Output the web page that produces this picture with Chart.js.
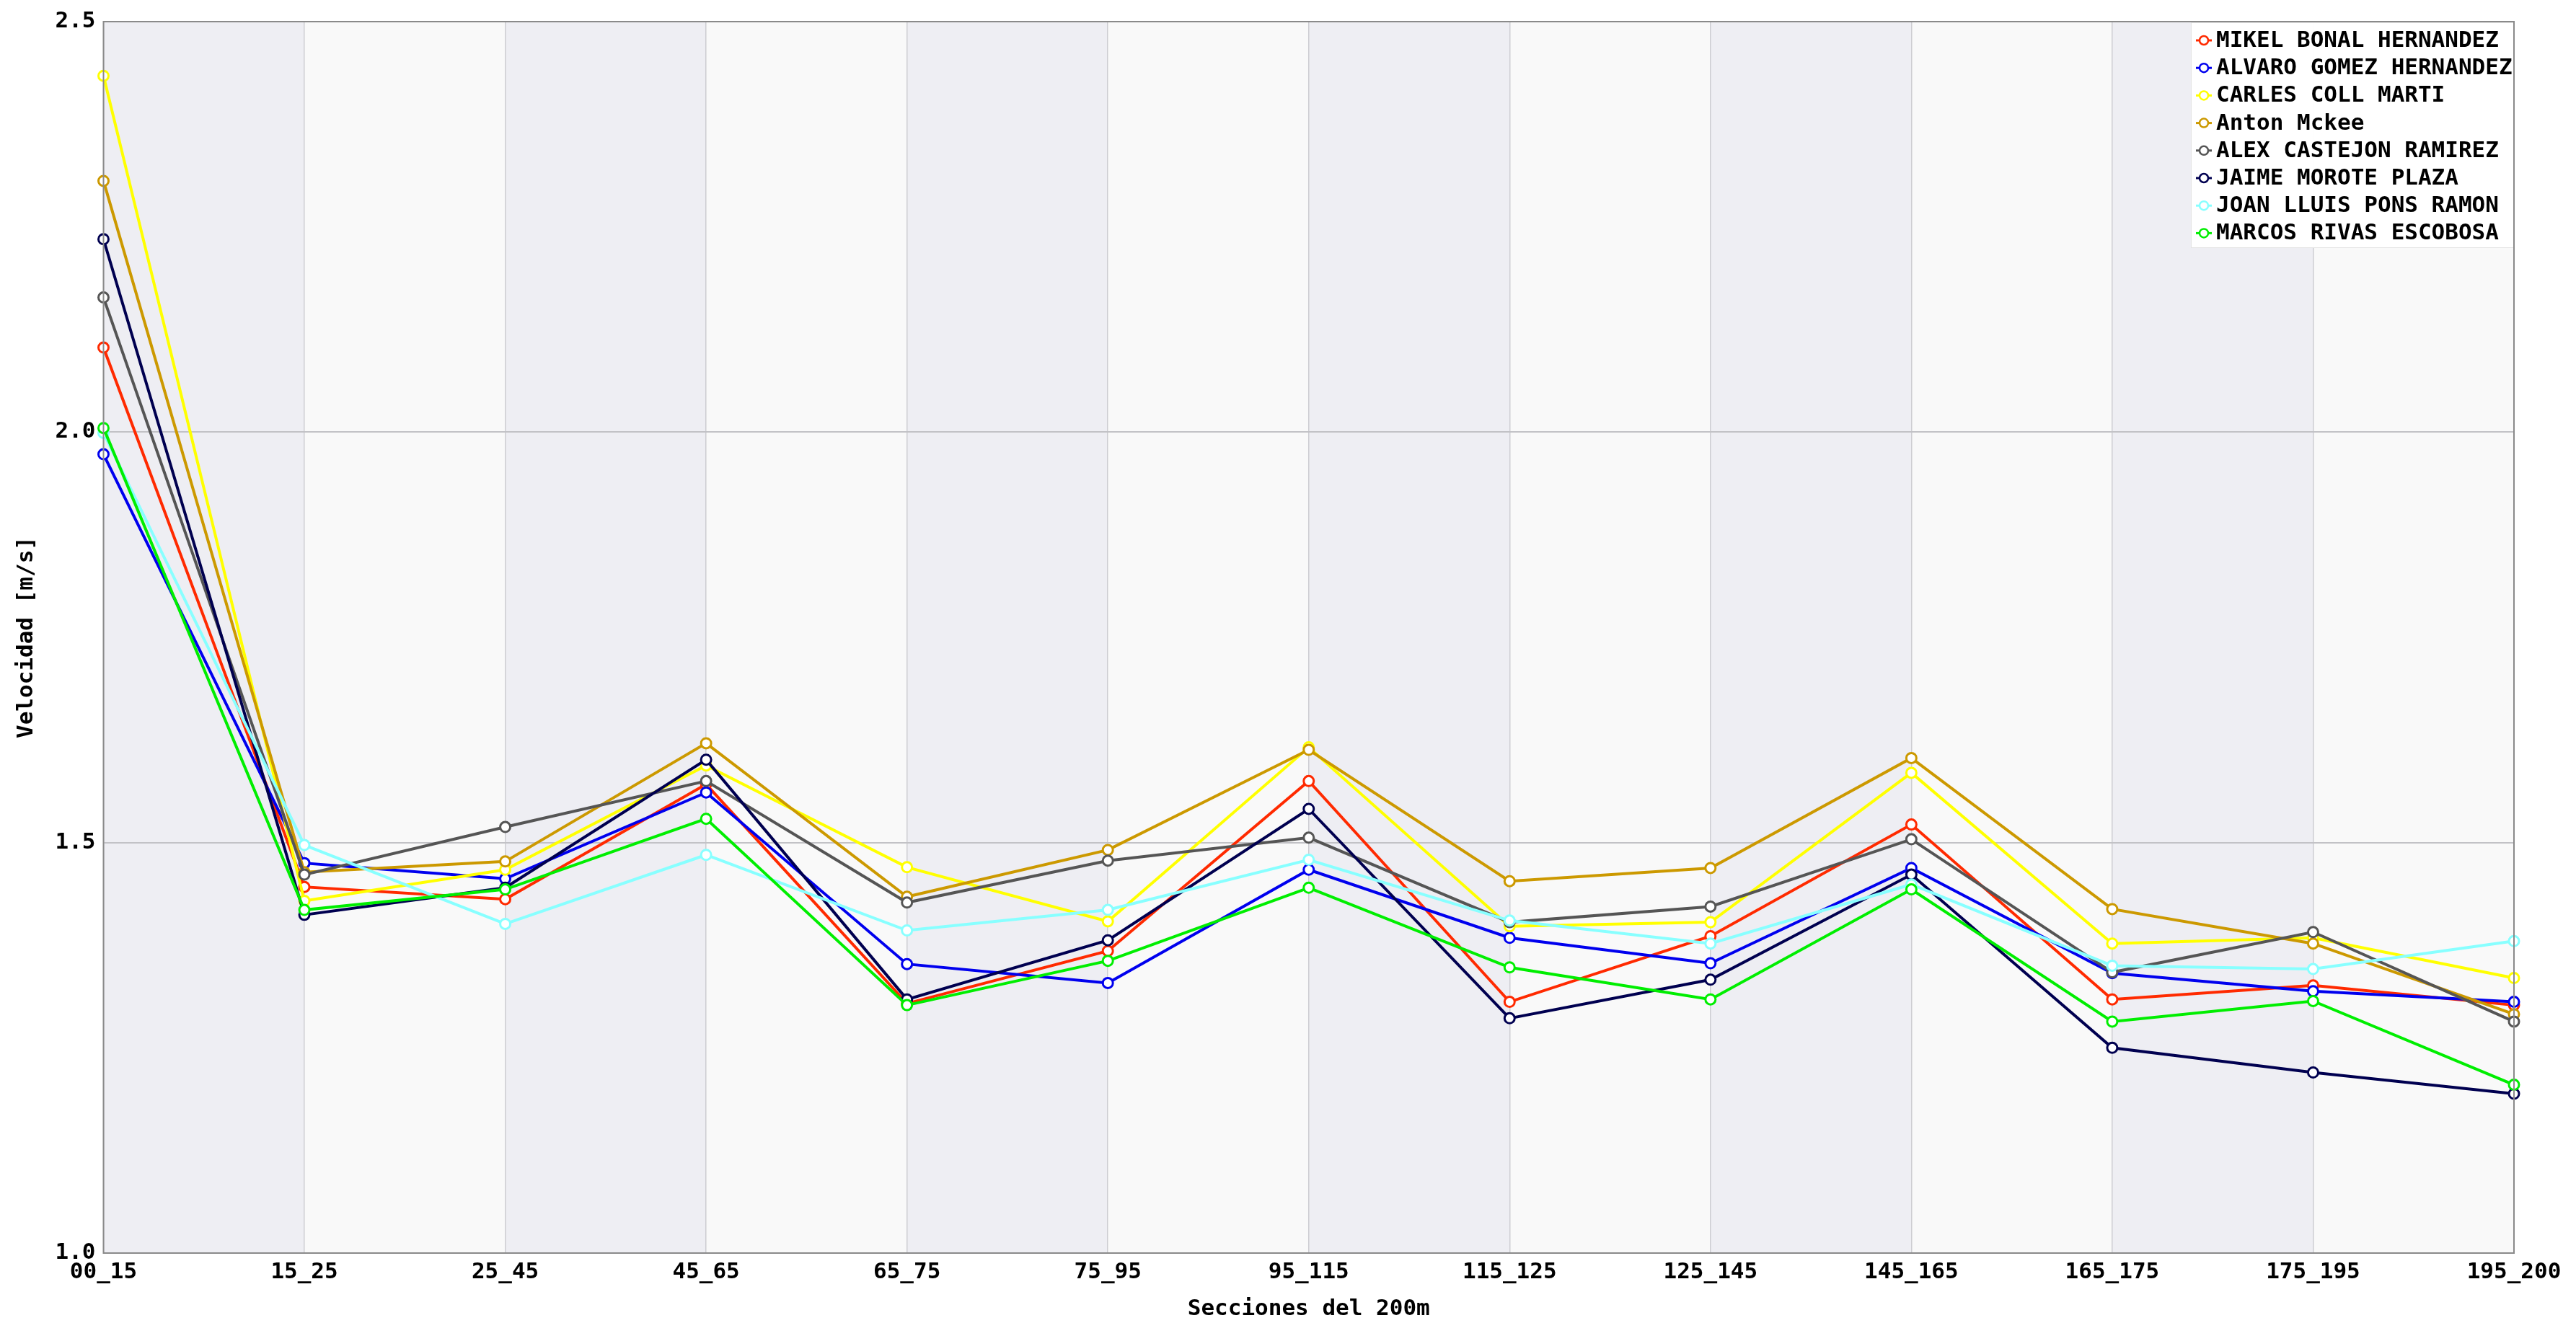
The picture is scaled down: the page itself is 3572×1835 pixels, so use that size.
<!DOCTYPE html>
<html>
<head>
<meta charset="utf-8">
<script src="https://cdn.jsdelivr.net/npm/chart.js@4/dist/chart.umd.min.js"></script>
<style>
html,body{margin:0;padding:0;background:#fff;}
#wrap{width:3572px;height:1835px;}
</style>
</head>
<body>
<div id="wrap"><canvas id="c" width="3572" height="1835"></canvas></div>
<script>
const categories = ['00_15','15_25','25_45','45_65','65_75','75_95','95_115','115_125','125_145','145_165','165_175','175_195','195_200'];
const yTicks = [1.0, 1.5, 2.0, 2.5];

const names = ['MIKEL BONAL HERNANDEZ','ALVARO GOMEZ HERNANDEZ','CARLES COLL MARTI','Anton Mckee','ALEX CASTEJON RAMIREZ','JAIME MOROTE PLAZA','JOAN LLUIS PONS RAMON','MARCOS RIVAS ESCOBOSA'];

const mikel  = [2.103, 1.446, 1.431, 1.571, 1.304, 1.368, 1.575, 1.306, 1.386, 1.522, 1.309, 1.326, 1.302];
const alvaro = [1.973, 1.475, 1.456, 1.561, 1.352, 1.329, 1.467, 1.384, 1.353, 1.469, 1.341, 1.319, 1.306];
const carles = [2.434, 1.429, 1.467, 1.594, 1.470, 1.404, 1.616, 1.398, 1.403, 1.585, 1.377, 1.384, 1.335];
const anton  = [2.306, 1.464, 1.477, 1.621, 1.434, 1.491, 1.613, 1.453, 1.469, 1.603, 1.419, 1.377, 1.291];
const alex   = [2.164, 1.461, 1.519, 1.575, 1.427, 1.478, 1.506, 1.403, 1.422, 1.504, 1.342, 1.391, 1.282];
const jaime  = [2.235, 1.412, 1.445, 1.601, 1.309, 1.381, 1.541, 1.286, 1.333, 1.461, 1.250, 1.220, 1.194];
const joan   = [1.999, 1.497, 1.401, 1.485, 1.393, 1.418, 1.479, 1.405, 1.377, 1.449, 1.350, 1.346, 1.380];
const marcos = [2.005, 1.418, 1.443, 1.529, 1.302, 1.356, 1.445, 1.348, 1.309, 1.443, 1.282, 1.307, 1.205];

const seriesValues = [mikel, alvaro, carles, anton, alex, jaime, joan, marcos];
const colors = ['#ff2a00','#0000ee','#ffff00','#cc9900','#555555','#000050','#88ffff','#00ee00'];

const FONT = '"DejaVu Sans Mono", monospace';

const datasets = names.map((n, i) => ({
  label: n,
  data: seriesValues[i],
  borderColor: colors[i],
  backgroundColor: '#ffffff',
  borderWidth: 4,
  pointRadius: 7,
  pointBorderWidth: 3,
  pointBackgroundColor: '#ffffff',
  pointBorderColor: colors[i],
  tension: 0,
  fill: false,
  order: names.length - i
}));

const bandsPlugin = {
  id: 'bands',
  beforeDraw(chart) {
    const {ctx, chartArea: a, scales: {x}} = chart;
    ctx.save();
    for (let i = 0; i < categories.length - 1; i++) {
      const x0 = x.getPixelForValue(i), x1 = x.getPixelForValue(i + 1);
      ctx.fillStyle = (i % 2 === 0) ? '#eeeef3' : '#f9f9f9';
      ctx.fillRect(x0, a.top, x1 - x0, a.bottom - a.top);
    }
    ctx.restore();
  }
};

const frameLegendPlugin = {
  id: 'frameLegend',
  afterDraw(chart) {
    const {ctx, chartArea: a} = chart;
    ctx.save();
    const boxLeft = a.right - 448;
    const boxTop = a.top + 1;
    const boxBottom = a.top + 314;
    ctx.fillStyle = 'rgba(255,255,255,0.95)';
    ctx.fillRect(boxLeft, boxTop, a.right - boxLeft, boxBottom - boxTop);
    ctx.strokeStyle = '#e4e4e4';
    ctx.lineWidth = 1;
    ctx.strokeRect(boxLeft + 0.5, boxTop + 0.5, a.right - boxLeft - 1, boxBottom - boxTop - 1);
    ctx.font = 'bold 31px ' + FONT;
    ctx.textBaseline = 'middle';
    ctx.textAlign = 'left';
    chart.data.datasets.forEach((ds, i) => {
      const cy = a.top + 26 + i * 38.2;
      const mx = boxLeft + 18;
      ctx.strokeStyle = ds.borderColor;
      ctx.lineWidth = 3;
      ctx.beginPath();
      ctx.moveTo(mx - 11, cy);
      ctx.lineTo(mx + 11, cy);
      ctx.stroke();
      ctx.beginPath();
      ctx.arc(mx, cy, 6, 0, Math.PI * 2);
      ctx.fillStyle = '#ffffff';
      ctx.fill();
      ctx.lineWidth = 2.5;
      ctx.stroke();
      ctx.fillStyle = '#000000';
      ctx.fillText(ds.label, boxLeft + 35, cy + 1);
    });
    ctx.strokeStyle = '#8a8a8a';
    ctx.lineWidth = 2;
    ctx.strokeRect(a.left, a.top, a.right - a.left, a.bottom - a.top);
    ctx.restore();
  }
};

new Chart(document.getElementById('c'), {
  type: 'line',
  data: { labels: categories, datasets },
  options: {
    responsive: false,
    animation: false,
    devicePixelRatio: 1,
    layout: { padding: { top: 30, right: 86, left: 0, bottom: 0 } },
    plugins: { legend: { display: false }, tooltip: { enabled: false } },
    scales: {
      x: {
        type: 'category',
        offset: false,
        border: { display: false },
        grid: { color: '#cdcdd2', lineWidth: 1.5, drawTicks: false },
        ticks: { color: '#000', font: { family: FONT, size: 31, weight: 'bold' }, padding: 8, maxRotation: 0, autoSkip: false },
        title: { display: true, text: 'Secciones del 200m', color: '#000', font: { family: FONT, size: 31, weight: 'bold' }, padding: { top: 1, bottom: 0 } },
        afterFit(s) { s.height = 97; }
      },
      y: {
        type: 'linear',
        min: yTicks[0],
        max: yTicks[yTicks.length - 1],
        border: { display: false },
        grid: { color: '#c2c2c6', lineWidth: 2, drawTicks: false },
        afterBuildTicks(s) { s.ticks = yTicks.map(v => ({ value: v })); },
        ticks: { color: '#000', font: { family: FONT, size: 31, weight: 'bold' }, padding: 11, callback: v => Number(v).toFixed(1) },
        title: { display: true, text: 'Velocidad [m/s]', color: '#000', font: { family: FONT, size: 31, weight: 'bold' }, padding: { top: 18, bottom: 0 } },
        afterFit(s) { s.width = 143.5; }
      }
    }
  },
  plugins: [bandsPlugin, frameLegendPlugin]
});
</script>
</body>
</html>
